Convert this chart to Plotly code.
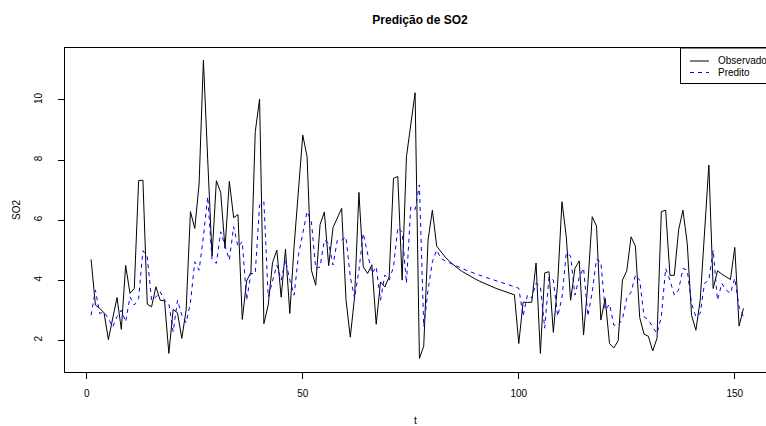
import plotly.graph_objects as go

t = list(range(1, 153))

observado = [
    4.69, 3.17, 3.06, 2.91, 2.02, 2.78, 3.42, 2.36, 4.49, 3.56,
    3.72, 7.31, 7.33, 3.20, 3.11, 3.78, 3.33, 3.31, 1.56, 3.02,
    2.91, 2.06, 3.00, 6.28, 5.72, 7.20, 11.33, 8.00, 4.80, 7.31,
    6.92, 5.06, 7.29, 6.08, 6.18, 2.69, 3.97, 4.26, 8.94, 10.03,
    2.55, 3.17, 4.58, 5.00, 3.43, 5.03, 2.89, 5.15, 6.95, 8.83,
    8.11, 4.33, 3.83, 5.85, 6.27, 4.48, 5.75, 6.06, 6.39, 3.35,
    2.10, 3.45, 6.92, 4.44, 4.22, 4.51, 2.53, 3.94, 3.77, 4.11,
    7.39, 7.45, 4.00, 8.11, 9.17, 10.24, 1.39, 1.80, 5.33, 6.33,
    5.13, 4.93, 4.76, 4.62, 4.49, 4.38, 4.28, 4.19, 4.11, 4.03,
    3.96, 3.89, 3.83, 3.77, 3.71, 3.66, 3.61, 3.56, 3.51, 1.89,
    3.26, 3.26, 3.26, 4.57, 1.56, 4.24, 4.28, 2.26, 3.89, 6.61,
    5.44, 3.33, 4.39, 4.64, 2.17, 3.89, 6.11, 5.80, 2.67, 3.39,
    1.89, 1.74, 1.98, 4.00, 4.31, 5.44, 5.13, 2.75, 2.20, 2.13,
    1.64, 2.06, 6.28, 6.33, 4.16, 4.16, 5.67, 6.33, 5.22, 2.83,
    2.33, 3.33, 5.50, 7.83, 3.72, 4.31, 4.20, 4.11, 4.02, 5.09,
    2.47, 3.06,
]

predito = [
    2.83, 3.67, 2.89, 2.94, 2.72, 2.44, 2.78, 3.00, 2.61, 3.44,
    3.17, 3.39, 4.98, 4.78, 3.33, 3.44, 3.61, 3.33, 3.22, 2.28,
    3.33, 2.83, 2.58, 3.25, 4.61, 4.33, 5.44, 6.78, 4.67, 4.56,
    5.61, 5.11, 4.67, 5.78, 5.11, 5.28, 3.33, 4.22, 4.22, 6.50,
    6.61, 3.44, 4.00, 4.50, 4.00, 4.67, 4.00, 3.50, 4.83, 5.50,
    6.28, 5.94, 4.39, 4.44, 5.33, 5.22, 4.50, 5.33, 5.33, 5.44,
    4.11, 3.39, 4.33, 5.56, 4.83, 4.22, 4.44, 3.33, 4.17, 4.00,
    4.44, 5.75, 5.60, 3.90, 6.44, 6.35, 7.17, 2.45, 3.67, 4.61,
    5.00, 4.72, 4.64, 4.57, 4.50, 4.44, 4.38, 4.32, 4.26, 4.21,
    4.16, 4.11, 4.06, 4.01, 3.96, 3.91, 3.86, 3.81, 3.77, 3.73,
    2.80, 3.50, 3.40, 3.90, 3.80, 2.40, 4.10, 4.00, 2.80, 3.40,
    4.90, 4.80, 3.50, 4.10, 4.40, 2.80, 3.60, 4.70, 4.60, 3.00,
    3.20, 2.50, 2.50, 2.70, 3.40, 3.60, 4.17, 4.00, 2.78, 2.67,
    2.44, 2.22, 2.78, 4.39, 4.00, 3.50, 3.67, 4.39, 4.33, 3.22,
    2.78, 2.89, 3.89, 4.00, 5.00, 3.33, 3.89, 3.67, 3.56, 4.06,
    3.11, 2.78,
]

x_ticks = [0, 50, 100, 150]
y_ticks = [2, 4, 6, 8, 10]
legend_labels = ["Observado", "Predito"]
legend_colors = ["#000000", "#0000FF"]
legend_dashes = ["solid", "4px,4px"]

FONT = "Liberation Sans, Arial, Helvetica, sans-serif"
W, H = 766, 426
ML, MT, MB = 65, 48, 54
PW, PH = W - ML, H - MT - MB


def px_x(p):
    return (p - ML) / PW


def px_y(p):
    return 1 - (p - MT) / PH


fig = go.Figure()
fig.add_trace(go.Scatter(x=t, y=observado, mode="lines", name=legend_labels[0],
                         line=dict(color=legend_colors[0], width=1), showlegend=False))
fig.add_trace(go.Scatter(x=t, y=predito, mode="lines", name=legend_labels[1],
                         line=dict(color=legend_colors[1], width=1, dash=legend_dashes[1]),
                         showlegend=False))

# Legend box (R-style, top-right, cut at the page edge as in the reference)
shapes = [dict(type="rect", xref="paper", yref="paper",
               x0=px_x(680.5), x1=px_x(780), y0=px_y(83.5), y1=px_y(48),
               line=dict(color="black", width=1), fillcolor="white", layer="above")]
annotations = []
for i, (lab, col, dsh) in enumerate(zip(legend_labels, legend_colors, legend_dashes)):
    yy = 61 + i * 11.5
    shapes.append(dict(type="line", xref="paper", yref="paper",
                       x0=px_x(690), x1=px_x(709), y0=px_y(yy), y1=px_y(yy),
                       line=dict(color=col, width=1, dash=dsh), layer="above"))
    annotations.append(dict(text=lab, xref="paper", yref="paper",
                            x=px_x(716), y=px_y(yy), xanchor="left", yanchor="middle",
                            showarrow=False, font=dict(size=10, family=FONT)))

fig.update_layout(
    width=W, height=H,
    margin=dict(l=ML, r=0, t=MT, b=MB, autoexpand=False),
    paper_bgcolor="white", plot_bgcolor="white",
    font=dict(family=FONT, size=10, color="black"),
    title=dict(text="<b>Predição de SO2</b>", x=420 / W, xanchor="center",
               y=1 - 20 / H, yanchor="middle", font=dict(size=12, family=FONT)),
    showlegend=False,
    shapes=shapes,
    annotations=annotations,
)

fig.update_xaxes(
    range=[-5.04, -5.04 + PW / 4.32],
    tickvals=x_ticks, ticktext=[str(v) for v in x_ticks],
    ticks="outside", ticklen=6, tickcolor="black", tickwidth=1,
    showline=True, linecolor="black", linewidth=1, mirror=True,
    showgrid=False, zeroline=False,
    ticklabelstandoff=6,
    title=dict(text="t", standoff=18, font=dict(size=10)),
)
fig.update_yaxes(
    range=[0.94, 11.73],
    tickvals=y_ticks, ticktext=[str(v) for v in y_ticks],
    tickangle=-90,
    ticks="outside", ticklen=6, tickcolor="black", tickwidth=1,
    showline=True, linecolor="black", linewidth=1, mirror=False,
    showgrid=False, zeroline=False,
    ticklabelstandoff=12,
    title=dict(text="SO2", standoff=10, font=dict(size=10)),
)

fig.write_html("out.html")
